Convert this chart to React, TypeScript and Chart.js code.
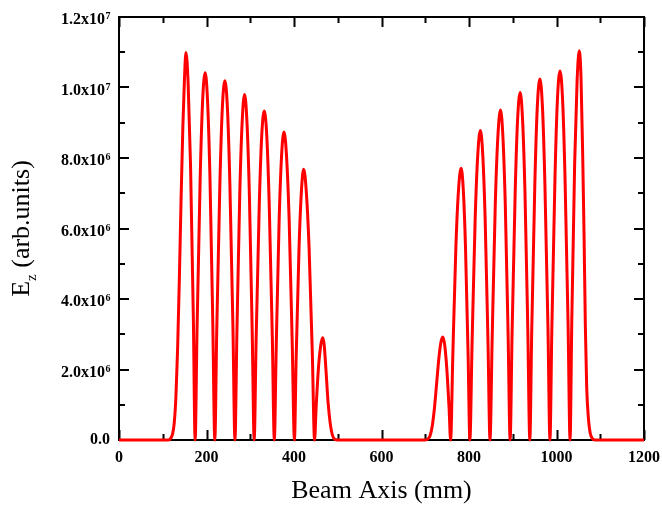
import React, { useEffect, useRef } from "react";
import { Chart, registerables } from "chart.js";

Chart.register(...registerables);

// Beam axis position (mm)
const beamAxisMm = [
  0, 100, 112, 117, 122, 126, 130, 134, 138, 142, 146, 149.5, 153, 158, 163.5, 170, 174,
  178.5, 185.5, 191, 197, 202.5, 208, 214.5, 219,
  223.5, 230.5, 236, 242, 248, 253.5, 260.5, 265,
  269.5, 276, 281.5, 287, 292.5, 298, 304.5, 309,
  313.5, 320.5, 326, 332, 338, 343.5, 350.5, 355,
  359.5, 366, 371.5, 377, 383, 389, 396, 401,
  405, 411.5, 417, 422, 428, 434.5, 442, 447,
  450.5, 456, 461, 465.5, 469, 473, 478, 483, 488, 493, 500,
  700, 706, 711, 716, 721, 726, 731, 735.5, 740, 744.5, 749, 754.5, 758,
  763, 770, 776, 782, 787, 792, 798, 802,
  807, 814, 820, 826, 831.5, 837, 843.5, 848,
  853, 860, 866, 872, 877.5, 883, 889.5, 894,
  898.5, 905.5, 911, 917, 922.5, 928, 934.5, 939,
  943.5, 950.5, 956, 962, 968, 973.5, 980.5, 985,
  989.5, 996.5, 1002, 1008, 1014, 1019.5, 1026.5, 1031,
  1035, 1041.5, 1047, 1052, 1056, 1060, 1063, 1066, 1069, 1073, 1077, 1082, 1088, 1200,
];

// E_z in units of 10^6 (arb. units)
const ezMillions = [
  0, 0, 0, 0.03, 0.15, 0.45, 1.2, 2.6, 4.6, 6.9, 8.9, 10.2, 10.99, 10.12, 7.8, 3.41, 0,
  3.23, 7.4, 9.59, 10.42, 9.59, 7.4, 3.23, 0,
  3.16, 7.23, 9.37, 10.19, 9.37, 7.23, 3.16, 0,
  3.04, 6.96, 9.02, 9.8, 9.02, 6.96, 3.04, 0,
  2.89, 6.62, 8.58, 9.33, 8.58, 6.62, 2.89, 0,
  2.71, 6.21, 8.04, 8.74, 8.04, 6.21, 2.71, 0,
  2.38, 5.45, 7.07, 7.68, 7.07, 5.45, 2.38, 0,
  0.9, 2.06, 2.67, 2.9, 2.7, 2.0, 1.05, 0.45, 0.13, 0.02, 0,
  0, 0.03, 0.12, 0.4, 0.9, 1.6, 2.3, 2.75, 2.92, 2.69, 2.07, 0.9, 0,
  2.39, 5.47, 7.09, 7.71, 7.09, 5.47, 2.39, 0,
  2.72, 6.23, 8.08, 8.78, 8.08, 6.23, 2.72, 0,
  2.9, 6.65, 8.61, 9.36, 8.61, 6.65, 2.9, 0,
  3.06, 7.0, 9.07, 9.86, 9.07, 7.0, 3.06, 0,
  3.17, 7.27, 9.42, 10.24, 9.42, 7.27, 3.17, 0,
  3.25, 7.43, 9.63, 10.47, 9.63, 7.43, 3.25, 0,
  3.42, 7.84, 10.16, 11.04, 10.3, 8.0, 5.8, 3.2, 1.5, 0.6, 0.2, 0.04, 0, 0,
];

const xMajorTicks = [0, 200, 400, 600, 800, 1000, 1200];
const xMinorTicks = [100, 300, 500, 700, 900, 1100];
const xTickLabels = ["0", "200", "400", "600", "800", "1000", "1200"];

const yMajorTicks = [0, 2, 4, 6, 8, 10, 12];
const yMinorTicks = [1, 3, 5, 7, 9, 11];
const yTickMantissa = ["0.0", "2.0x10", "4.0x10", "6.0x10", "8.0x10", "1.0x10", "1.2x10"];
const yTickExponent = ["", "6", "6", "6", "6", "7", "7"];

const xTitle = "Beam Axis (mm)";
const yTitleMain = "E";
const yTitleSub = "z";
const yTitleRest = " (arb.units)";

const SERIF = '"Liberation Serif", "Times New Roman", serif';

const framePlugin = {
  id: "framePlugin",
  beforeDatasetsDraw(chart: any) {
    const { ctx, chartArea } = chart;
    const xs = chart.scales.x;
    const ys = chart.scales.y;
    const { left, right, top, bottom } = chartArea;
    ctx.save();
    ctx.strokeStyle = "#000";
    ctx.lineWidth = 2;
    ctx.strokeRect(left, top, right - left, bottom - top);
    ctx.lineWidth = 2;
    ctx.beginPath();
    const major = 10;
    const minor = 6;
    xMajorTicks.forEach((v) => {
      const px = Math.round(xs.getPixelForValue(v)) + 0.5;
      ctx.moveTo(px, bottom);
      ctx.lineTo(px, bottom - major);
      ctx.moveTo(px, top);
      ctx.lineTo(px, top + major);
    });
    xMinorTicks.forEach((v) => {
      const px = Math.round(xs.getPixelForValue(v)) + 0.5;
      ctx.moveTo(px, bottom);
      ctx.lineTo(px, bottom - minor);
      ctx.moveTo(px, top);
      ctx.lineTo(px, top + minor);
    });
    yMajorTicks.forEach((v) => {
      const py = Math.round(ys.getPixelForValue(v));
      ctx.moveTo(left, py);
      ctx.lineTo(left + major, py);
      ctx.moveTo(right, py);
      ctx.lineTo(right - major, py);
    });
    yMinorTicks.forEach((v) => {
      const py = Math.round(ys.getPixelForValue(v));
      ctx.moveTo(left, py);
      ctx.lineTo(left + minor, py);
      ctx.moveTo(right, py);
      ctx.lineTo(right - minor, py);
    });
    ctx.stroke();
    ctx.restore();
  },
  afterDraw(chart: any) {
    const { ctx, chartArea } = chart;
    const xs = chart.scales.x;
    const ys = chart.scales.y;
    ctx.save();
    ctx.fillStyle = "#000";
    // x tick labels
    ctx.font = `bold 16px ${SERIF}`;
    ctx.textAlign = "center";
    ctx.textBaseline = "alphabetic";
    xMajorTicks.forEach((v, i) => {
      ctx.fillText(xTickLabels[i], xs.getPixelForValue(v), chartArea.bottom + 22);
    });
    // y tick labels
    const rightEdge = chartArea.left - 9;
    yMajorTicks.forEach((v, i) => {
      const py = ys.getPixelForValue(v);
      const exp = yTickExponent[i];
      ctx.textAlign = "left";
      if (exp) {
        ctx.font = `bold 10px ${SERIF}`;
        const sw = ctx.measureText(exp).width;
        ctx.font = `bold 16px ${SERIF}`;
        const mw = ctx.measureText(yTickMantissa[i]).width;
        const base = py + 7;
        const x0 = rightEdge - sw - mw;
        ctx.fillText(yTickMantissa[i], x0, base);
        ctx.font = `bold 10px ${SERIF}`;
        ctx.fillText(exp, x0 + mw + 0.5, base - 5);
      } else {
        ctx.font = `bold 16px ${SERIF}`;
        const mw = ctx.measureText(yTickMantissa[i]).width;
        ctx.fillText(yTickMantissa[i], rightEdge - mw, py + 3.5);
      }
    });
    // x title
    ctx.font = `26px ${SERIF}`;
    ctx.textAlign = "center";
    ctx.fillText(xTitle, (chartArea.left + chartArea.right) / 2, 498);
    // y title
    ctx.translate(29, (chartArea.top + chartArea.bottom) / 2);
    ctx.rotate(-Math.PI / 2);
    ctx.textAlign = "left";
    ctx.font = `26px ${SERIF}`;
    const wE = ctx.measureText(yTitleMain).width;
    const wR = ctx.measureText(yTitleRest).width;
    ctx.font = `15px ${SERIF}`;
    const wZ = ctx.measureText(yTitleSub).width;
    const total = wE + wZ + wR;
    let x = -total / 2;
    ctx.font = `26px ${SERIF}`;
    ctx.fillText(yTitleMain, x, 0);
    x += wE;
    ctx.font = `15px ${SERIF}`;
    ctx.fillText(yTitleSub, x, 7);
    x += wZ;
    ctx.font = `26px ${SERIF}`;
    ctx.fillText(yTitleRest, x, 0);
    ctx.restore();
  },
};

export default function App() {
  const canvasRef = useRef<HTMLCanvasElement | null>(null);

  useEffect(() => {
    document.body.style.margin = "0";
    const canvas = canvasRef.current;
    if (!canvas) return;
    const points = beamAxisMm.map((x, i) => ({ x, y: ezMillions[i] }));
    const chart = new Chart(canvas, {
      type: "line",
      data: {
        datasets: [
          {
            data: points,
            borderColor: "#ff0000",
            borderWidth: 3,
            pointRadius: 0,
            fill: false,
            cubicInterpolationMode: "monotone",
            clip: false as any,
          },
        ],
      },
      options: {
        responsive: false,
        animation: false,
        devicePixelRatio: 1,
        layout: { padding: { left: 119, right: 18, top: 17, bottom: 68 } },
        plugins: { legend: { display: false }, tooltip: { enabled: false } },
        scales: {
          x: { type: "linear", min: 0, max: 1200, display: false },
          y: { type: "linear", min: 0, max: 12, display: false },
        },
      },
      plugins: [framePlugin],
    });
    return () => chart.destroy();
  }, []);

  return (
    <div style={{ position: "fixed", left: 0, top: 0, width: 662, height: 508, background: "#fff" }}>
      <canvas ref={canvasRef} width={662} height={508} />
    </div>
  );
}
